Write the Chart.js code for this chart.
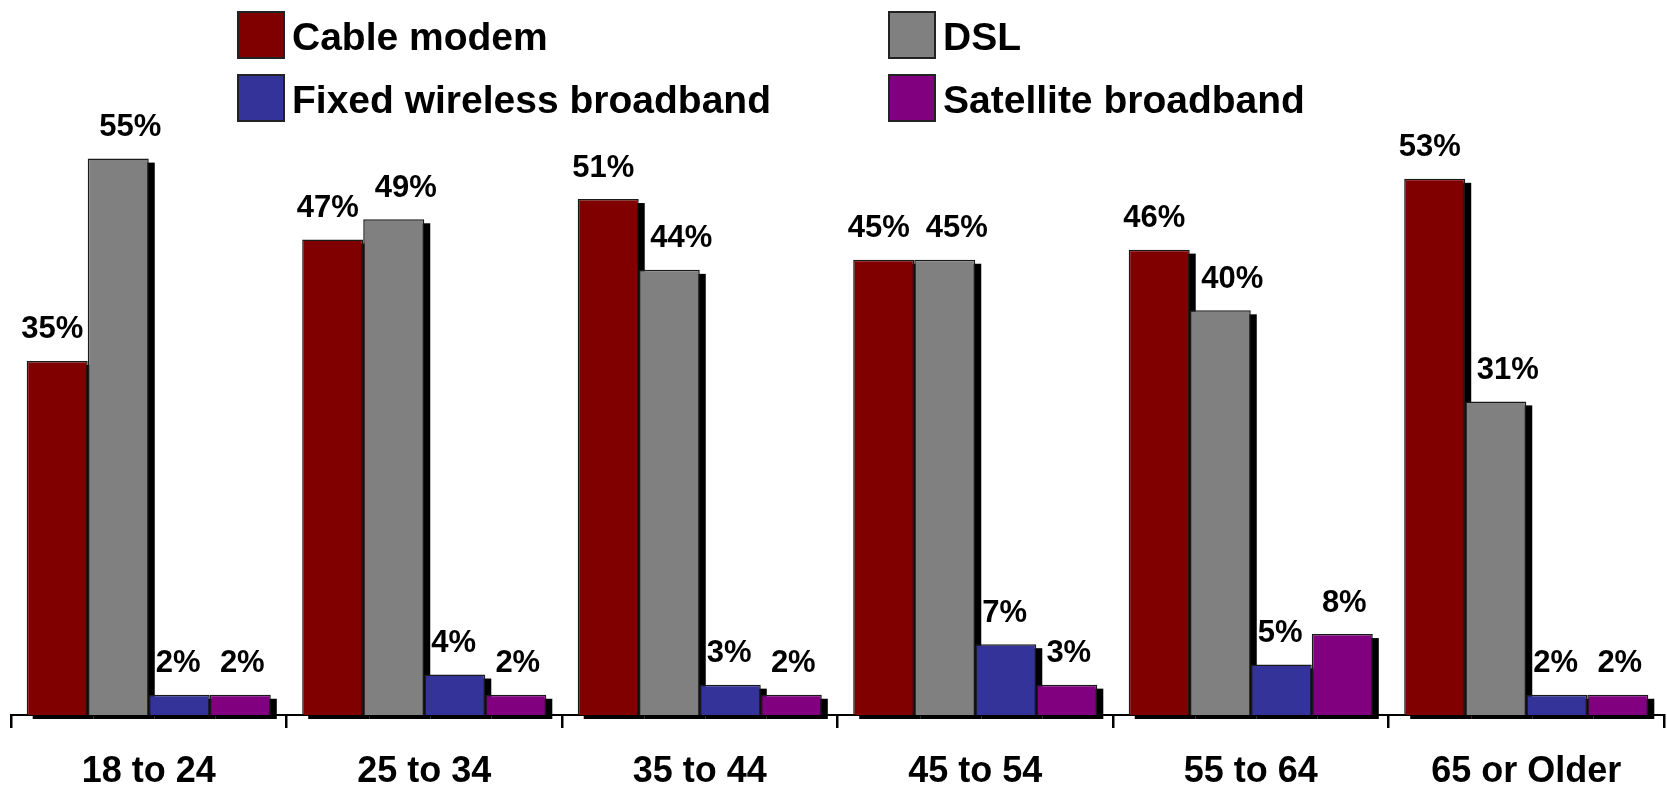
<!DOCTYPE html>
<html>
<head>
<meta charset="utf-8">
<script src="https://cdn.jsdelivr.net/npm/chart.js@4.4.1/dist/chart.umd.min.js"></script>
<style>
  html, body { margin: 0; padding: 0; background: #fff; }
  #wrap { width: 1667px; height: 788px; position: relative; }
</style>
</head>
<body>
<div id="wrap"><canvas id="broadbandChart"></canvas></div>
<script>
const ageGroups = ['18 to 24', '25 to 34', '35 to 44', '45 to 54', '55 to 64', '65 or Older'];
const cableModem = [35, 47, 51, 45, 46, 53];
const dsl = [55, 49, 44, 45, 40, 31];
const fixedWireless = [2, 4, 3, 7, 5, 2];
const satellite = [2, 2, 2, 3, 8, 2];

const seriesNames = ['Cable modem', 'DSL', 'Fixed wireless broadband', 'Satellite broadband'];
const seriesColors = ['#800000', '#808080', '#333399', '#800080'];
// horizontal nudge of value labels per series (px), like the original layout
const labelShift = [-5, 12, -1, 2];

const FONT = '"Liberation Sans", Arial, sans-serif';

// black drop shadow behind every bar, later bars cover earlier shadows
const barShadow = {
    id: 'barShadow',
    beforeDatasetsDraw(chart) {
        const ctx = chart.ctx;
        ctx.save();
        ctx.fillStyle = '#000';
        chart.data.datasets.forEach((ds, i) => {
            chart.getDatasetMeta(i).data.forEach(bar => {
                const left = bar.x - bar.width / 2;
                ctx.fillRect(left + 6, bar.y + 4, bar.width, bar.base - bar.y);
            });
        });
        ctx.restore();
    }
};

const valueLabels = {
    id: 'valueLabels',
    afterDatasetsDraw(chart) {
        const ctx = chart.ctx;
        ctx.save();
        ctx.font = 'bold 31px ' + FONT;
        ctx.fillStyle = '#000';
        ctx.textAlign = 'center';
        ctx.textBaseline = 'middle';
        chart.data.datasets.forEach((ds, i) => {
            chart.getDatasetMeta(i).data.forEach((bar, j) => {
                ctx.fillText(ds.data[j] + '%', bar.x + labelShift[i], bar.y - 31);
            });
        });
        ctx.restore();
    }
};

// category names under the axis, placed on the x scale
const categoryLabels = {
    id: 'categoryLabels',
    afterDraw(chart) {
        const ctx = chart.ctx;
        const xScale = chart.scales.x;
        ctx.save();
        ctx.font = 'bold 36px ' + FONT;
        ctx.fillStyle = '#000';
        ctx.textAlign = 'center';
        ctx.textBaseline = 'middle';
        chart.data.labels.forEach((lab, i) => {
            ctx.fillText(lab, xScale.getPixelForValue(i), chart.chartArea.bottom + 57);
        });
        ctx.restore();
    }
};

// two-column legend at the top
const gridLegend = {
    id: 'gridLegend',
    afterDraw(chart) {
        const ctx = chart.ctx;
        const cols = [237, 888];
        const rows = [11, 74];
        const box = 48;
        ctx.save();
        ctx.font = 'bold 39px ' + FONT;
        ctx.textBaseline = 'middle';
        ctx.textAlign = 'left';
        chart.data.datasets.forEach((ds, i) => {
            const x = cols[i % 2];
            const y = rows[Math.floor(i / 2)];
            ctx.fillStyle = ds.backgroundColor;
            ctx.fillRect(x, y, box, box);
            ctx.lineWidth = 2;
            ctx.strokeStyle = '#222';
            ctx.strokeRect(x + 1, y + 1, box - 2, box - 2);
            ctx.fillStyle = '#000';
            ctx.fillText(ds.label, x + box + 7, y + box / 2 + 4);
        });
        ctx.restore();
    }
};

const seriesData = [cableModem, dsl, fixedWireless, satellite];

const ctx = document.getElementById('broadbandChart').getContext('2d');
new Chart(ctx, {
    type: 'bar',
    data: {
        labels: ageGroups,
        datasets: seriesData.map((d, i) => ({
            label: seriesNames[i],
            data: d,
            backgroundColor: seriesColors[i],
            borderColor: '#1a1a1a',
            borderWidth: 1.5,
            categoryPercentage: 0.886,
            barPercentage: 1.0
        }))
    },
    options: {
        responsive: true,
        maintainAspectRatio: false,
        animation: false,
        layout: { padding: { top: 108, left: 11, right: 3, bottom: 60 } },
        plugins: {
            legend: { display: false },
            tooltip: { enabled: false }
        },
        scales: {
            x: {
                grid: {
                    display: true,
                    drawOnChartArea: false,
                    drawTicks: true,
                    tickLength: 13,
                    lineWidth: 2.5,
                    color: '#000'
                },
                border: { display: true, color: '#000', width: 2 },
                ticks: { display: false }
            },
            y: {
                display: false,
                min: 0,
                max: 60
            }
        }
    },
    plugins: [barShadow, valueLabels, categoryLabels, gridLegend]
});
</script>
</body>
</html>
